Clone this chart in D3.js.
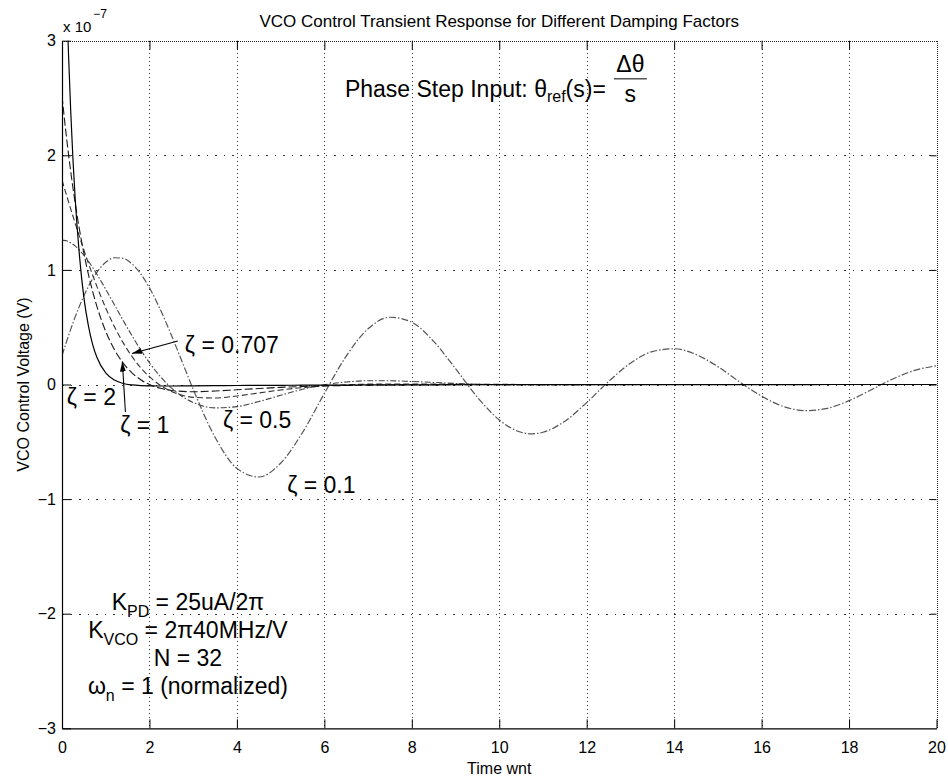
<!DOCTYPE html>
<html>
<head>
<meta charset="utf-8">
<script src="https://cdn.jsdelivr.net/npm/d3@7"></script>
<style>
  body { margin: 0; background: #fff; }
  svg { display: block; }
  text { font-family: "Liberation Sans", Arial, Helvetica, sans-serif; fill: #000; }
</style>
</head>
<body>
<svg id="chart" width="948" height="780"></svg>
<script>
// Normalized time (ωn·t) shared by every response curve
const timeWnt = [0, 0.05, 0.1, 0.15, 0.2, 0.25, 0.3, 0.4, 0.5, 0.6, 0.7, 0.8,
  1.0, 1.2, 1.4, 1.6, 1.8, 2.0, 2.25, 2.5, 2.75, 3.0,
  3.5, 4.0, 4.5, 5.0, 5.5, 6.0, 6.5, 7.0, 7.5, 8.0, 8.5, 9.0, 9.5, 10,
  10.5, 10.75, 11, 11.5, 12, 12.5, 13, 13.5, 14, 14.5, 15, 15.5, 16, 16.5, 17,
  17.5, 18, 18.5, 19, 19.5, 20];

// VCO control voltage, in units of 1e-7 V
const vZeta2 = [5.04, 4.18, 3.46, 2.87, 2.38, 1.97, 1.63, 1.12, 0.76, 0.52, 0.35, 0.235,
  0.101, 0.039, 0.009, -0.004, -0.010, -0.012, -0.013, -0.013, -0.0125, -0.0117,
  -0.0102, -0.0089, -0.0078, -0.0068, -0.006, -0.0052, -0.0046, -0.004, -0.0035, -0.0031,
  -0.0027, -0.0023, -0.002, -0.0018, -0.0016, -0.0015, -0.0014, -0.0012, -0.001, -0.0009, -0.0008,
  -0.0007, -0.0006, -0.0005, -0.0005, -0.0004, -0.0004, -0.0003, -0.0003, -0.0002, -0.0002,
  -0.0002, -0.0002, -0.0001, -0.0001];

const vZeta1 = [2.52, 2.337, 2.166, 2.006, 1.857, 1.717, 1.587, 1.351, 1.146, 0.968, 0.813, 0.679,
  0.464, 0.304, 0.186, 0.102, 0.042, 0, -0.033, -0.052, -0.060, -0.063,
  -0.057, -0.046, -0.035, -0.025, -0.018, -0.0125, -0.0085, -0.0057, -0.0038, -0.0025,
  -0.0016, -0.0011, -0.0007, -0.0005, -0.0003, -0.0002, -0.0002, -0.0001, -0.0001, 0, 0,
  0, 0, 0, 0, 0, 0, 0, 0, 0, 0, 0, 0, 0, 0];

const vZeta0707 = [1.782, 1.719, 1.656, 1.594, 1.531, 1.470, 1.409, 1.290, 1.174, 1.062, 0.956, 0.854,
  0.668, 0.504, 0.363, 0.245, 0.146, 0.068, -0.007, -0.060, -0.093, -0.112,
  -0.118, -0.100, -0.074, -0.048, -0.027, -0.012, -0.002, 0.003, 0.005, 0.005,
  0.004, 0.003, 0.002, 0.001, 0.0005, 0.0003, 0.0002, 0, 0, 0, 0,
  0, 0, 0, 0, 0, 0, 0, 0, 0, 0, 0, 0, 0, 0];

const vZeta05 = [1.26, 1.258, 1.254, 1.247, 1.236, 1.224, 1.209, 1.172, 1.128, 1.078, 1.022, 0.961,
  0.831, 0.695, 0.558, 0.426, 0.302, 0.190, 0.069, -0.030, -0.104, -0.157,
  -0.204, -0.193, -0.149, -0.094, -0.042, -0.003, 0.022, 0.033, 0.033, 0.026,
  0.018, 0.009, 0.002, -0.003, -0.005, -0.005, -0.005, -0.005, -0.003, -0.002, -0.001,
  0, 0.0005, 0, 0, 0, 0, 0, 0, 0, 0, 0, 0, 0, 0];

const vZeta01 = [0.252, 0.312, 0.370, 0.427, 0.483, 0.536, 0.588, 0.685, 0.774, 0.853, 0.923, 0.981,
  1.066, 1.106, 1.101, 1.053, 0.966, 0.844, 0.653, 0.432, 0.196, -0.041,
  -0.460, -0.732, -0.807, -0.687, -0.419, -0.078, 0.248, 0.486, 0.587, 0.543,
  0.376, 0.138, -0.111, -0.309, -0.417, -0.430, -0.417, -0.320, -0.158, 0.026, 0.186,
  0.287, 0.312, 0.262, 0.156, 0.022, -0.102, -0.192, -0.228, -0.208, -0.141,
  -0.048, 0.048, 0.123, 0.163];

const seriesNames = ["ζ = 2", "ζ = 1", "ζ = 0.707", "ζ = 0.5", "ζ = 0.1"];
const seriesValues = [vZeta2, vZeta1, vZeta0707, vZeta05, vZeta01];

const xTicks = [0, 2, 4, 6, 8, 10, 12, 14, 16, 18, 20];
const yTicks = [-3, -2, -1, 0, 1, 2, 3];

// ---- layout and styling ----
const W = 948, H = 780;
const plot = { left: 62, right: 936.5, top: 40.7, bottom: 728.3 };

const lineStyles = [
  { stroke: "#000", width: 1.2, dash: null },
  { stroke: "#1a1a1a", width: 1.1, dash: "8,3" },
  { stroke: "#333", width: 1.1, dash: "6,3" },
  { stroke: "#444", width: 1.1, dash: "6,2,1.5,2" },
  { stroke: "#555", width: 1.2, dash: "7,2,1.5,2" }
];

// curve-label anchors (data coordinates, baseline-left)
const labelAnchors = [
  { t: 0.11, v: -0.18 },
  { t: 1.33, v: -0.42 },
  { t: 2.81, v: 0.275 },
  { t: 3.68, v: -0.38 },
  { t: 5.15, v: -0.95 }
];
// arrows from labels to curves (data coordinates)
const arrows = [
  { from: { t: 2.65, v: 0.38 }, to: { t: 1.60, v: 0.27 } },
  { from: { t: 1.45, v: -0.24 }, to: { t: 1.38, v: 0.20 } }
];

const x = d3.scaleLinear().domain([0, 20]).range([plot.left, plot.right]);
const y = d3.scaleLinear().domain([-3, 3]).range([plot.bottom, plot.top]);

const svg = d3.select("#chart");
svg.append("rect").attr("width", W).attr("height", H).attr("fill", "#fff");

const defs = svg.append("defs");
defs.append("clipPath").attr("id", "plot-clip")
  .append("rect")
  .attr("x", plot.left).attr("y", plot.top)
  .attr("width", plot.right - plot.left).attr("height", plot.bottom - plot.top);
defs.append("marker")
  .attr("id", "arrowhead")
  .attr("viewBox", "0 0 10 6")
  .attr("refX", 10).attr("refY", 3)
  .attr("markerWidth", 10).attr("markerHeight", 6)
  .attr("markerUnits", "userSpaceOnUse")
  .attr("orient", "auto")
  .append("path").attr("d", "M0,0L10,3L0,6Z").attr("fill", "#000");

// ---- dotted grid ----
const grid = svg.append("g").attr("shape-rendering", "crispEdges");
grid.selectAll("line.vgrid")
  .data(xTicks.filter(d => d > 0 && d < 20))
  .join("line").attr("class", "vgrid")
  .attr("x1", d => Math.round(x(d)) + 0.5).attr("x2", d => Math.round(x(d)) + 0.5)
  .attr("y1", plot.top).attr("y2", plot.bottom)
  .attr("stroke", "#333").attr("stroke-width", 1).attr("stroke-dasharray", "1,3");
grid.selectAll("line.hgrid")
  .data(yTicks.filter(d => d > -3 && d < 3))
  .join("line").attr("class", "hgrid")
  .attr("y1", d => Math.round(y(d)) + 0.5).attr("y2", d => Math.round(y(d)) + 0.5)
  .attr("x1", plot.left).attr("x2", plot.right)
  .attr("stroke", "#333").attr("stroke-width", 1).attr("stroke-dasharray", "1.5,7");
// top and right frame edges are dotted
grid.append("line")
  .attr("x1", plot.left).attr("x2", plot.right)
  .attr("y1", Math.round(y(3)) + 0.5).attr("y2", Math.round(y(3)) + 0.5)
  .attr("stroke", "#222").attr("stroke-dasharray", "1,1");
grid.append("line")
  .attr("x1", Math.round(x(20)) + 0.5).attr("x2", Math.round(x(20)) + 0.5)
  .attr("y1", plot.top).attr("y2", plot.bottom)
  .attr("stroke", "#222").attr("stroke-dasharray", "1,1");

// ---- response curves ----
const line = d3.line()
  .x((d, i) => x(timeWnt[i]))
  .y(d => y(d))
  .curve(d3.curveMonotoneX);

const curves = svg.append("g").attr("clip-path", "url(#plot-clip)");
curves.selectAll("path")
  .data(seriesValues.map((v, i) => ({ v, s: lineStyles[i] })).reverse())
  .join("path")
  .attr("d", d => line(d.v))
  .attr("fill", "none")
  .attr("stroke", d => d.s.stroke)
  .attr("stroke-width", d => d.s.width)
  .attr("stroke-dasharray", d => d.s.dash);

// ---- axes ----
const fmt = d3.format("d");
function styleAxis(g, size) {
  g.attr("font-family", null).attr("font-size", size);
  g.selectAll(".tick line").attr("stroke", "#000");
  g.selectAll("text").attr("fill", "#000");
}
const axB = svg.append("g").attr("transform", `translate(0,${plot.bottom})`)
  .call(d3.axisBottom(x).tickValues(xTicks).tickSizeInner(-9).tickSizeOuter(0).tickPadding(13).tickFormat(fmt));
styleAxis(axB, 16);
axB.select(".domain").attr("stroke", "#000").attr("stroke-width", 1.2);

const axL = svg.append("g").attr("transform", `translate(${plot.left},0)`)
  .call(d3.axisLeft(y).tickValues(yTicks).tickSizeInner(-9).tickSizeOuter(0).tickPadding(6).tickFormat(fmt));
styleAxis(axL, 16);
axL.select(".domain").attr("stroke", "#000").attr("stroke-width", 1.2);

const axT = svg.append("g").attr("transform", `translate(0,${plot.top})`)
  .call(d3.axisTop(x).tickValues(xTicks.filter(d => d > 0 && d < 20)).tickSizeInner(-9).tickSizeOuter(0).tickFormat(""));
styleAxis(axT, 16);
axT.select(".domain").remove();

const axR = svg.append("g").attr("transform", `translate(${plot.right},0)`)
  .call(d3.axisRight(y).tickValues(yTicks.filter(d => d > -3 && d < 3)).tickSizeInner(-6).tickSizeOuter(0).tickFormat(""));
styleAxis(axR, 16);
axR.select(".domain").remove();

// exponent marker above the y axis
const expo = svg.append("text").attr("x", plot.left + 1).attr("y", 32).attr("font-size", 15);
expo.append("tspan").text("x 10");
expo.append("tspan").attr("dx", 2).attr("dy", -14).attr("font-size", 12).text("−7");

// ---- title and axis labels ----
svg.append("text")
  .attr("x", (plot.left + plot.right) / 2).attr("y", 27)
  .attr("text-anchor", "middle").attr("font-size", 17)
  .text("VCO Control Transient Response for Different Damping Factors");
svg.append("text")
  .attr("x", (plot.left + plot.right) / 2).attr("y", 774)
  .attr("text-anchor", "middle").attr("font-size", 16)
  .text("Time wnt");
svg.append("text")
  .attr("transform", `translate(29,${(plot.top + plot.bottom) / 2}) rotate(-90)`)
  .attr("text-anchor", "middle").attr("font-size", 16)
  .text("VCO Control Voltage (V)");

// ---- curve labels and arrows ----
const ann = svg.append("g").attr("font-size", 23);
ann.selectAll("text.zeta")
  .data(seriesNames.map((n, i) => ({ n, a: labelAnchors[i] })))
  .join("text").attr("class", "zeta")
  .attr("x", d => x(d.a.t)).attr("y", d => y(d.a.v))
  .text(d => d.n);

svg.append("g").selectAll("line")
  .data(arrows)
  .join("line")
  .attr("x1", d => x(d.from.t)).attr("y1", d => y(d.from.v))
  .attr("x2", d => x(d.to.t)).attr("y2", d => y(d.to.v))
  .attr("stroke", "#000").attr("stroke-width", 1.1)
  .attr("marker-end", "url(#arrowhead)");

// ---- loop parameter block ----
const paramLines = [
  [["K", false], ["PD", true], [" = 25uA/2π", false]],
  [["K", false], ["VCO", true], [" = 2π40MHz/V", false]],
  [["N = 32", false]],
  [["ω", false], ["n", true], [" = 1 (normalized)", false]]
];
const paramAnchor = { t: 2.88, v: -1.97 };
const paramStep = 28;
const params = svg.append("g").attr("font-size", 23).attr("text-anchor", "middle");
paramLines.forEach((parts, li) => {
  const t = params.append("text")
    .attr("x", x(paramAnchor.t))
    .attr("y", y(paramAnchor.v) + li * paramStep);
  let lowered = false;
  parts.forEach(([s, sub]) => {
    const sp = t.append("tspan").text(s);
    if (sub && !lowered) { sp.attr("dy", 7).attr("font-size", 16); lowered = true; }
    else if (!sub && lowered) { sp.attr("dy", -7); lowered = false; }
  });
});

// ---- phase step annotation ----
const stepAnchor = { t: 6.47, v: 2.51 };
const sx = x(stepAnchor.t), sy = y(stepAnchor.v);
const stepText = svg.append("text").attr("x", sx).attr("y", sy).attr("font-size", 23);
stepText.append("tspan").text("Phase Step Input: θ");
stepText.append("tspan").attr("dy", 5).attr("font-size", 16).text("ref");
stepText.append("tspan").attr("dy", -5).text("(s)=");
const bb = stepText.node().getBBox();
const fx0 = bb.x + bb.width + 8, fx1 = fx0 + 33, fxc = (fx0 + fx1) / 2;
svg.append("text").attr("x", fxc).attr("y", sy - 25).attr("text-anchor", "middle").attr("font-size", 23).text("Δθ");
svg.append("line").attr("x1", fx0).attr("x2", fx1).attr("y1", sy - 18).attr("y2", sy - 18)
  .attr("stroke", "#000").attr("stroke-width", 1);
svg.append("text").attr("x", fxc).attr("y", sy + 5).attr("text-anchor", "middle").attr("font-size", 23).text("s");
</script>
</body>
</html>
